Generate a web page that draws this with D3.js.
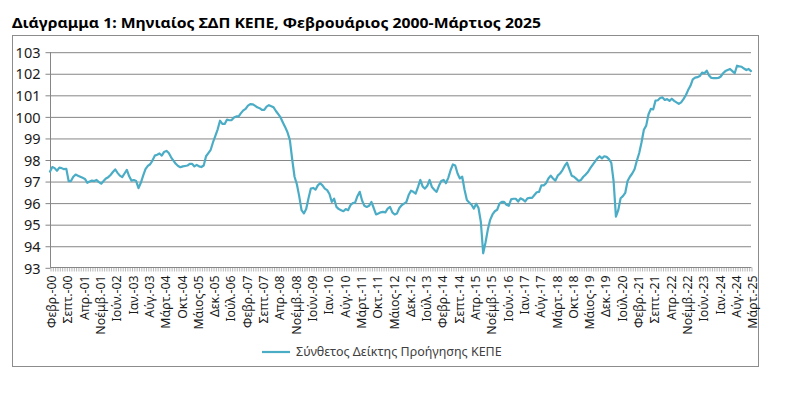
<!DOCTYPE html>
<html><head><meta charset="utf-8">
<script src="https://cdn.jsdelivr.net/npm/d3@7"></script>
<style>body{margin:0;background:#fff}svg{display:block}</style>
</head><body>
<svg id="c" width="791" height="393"></svg>
<script>
const title = "Διάγραμμα 1: Μηνιαίος ΣΔΠ ΚΕΠΕ, Φεβρουάριος 2000-Μάρτιος 2025";
const seriesName = "Σύνθετος Δείκτης Προήγησης ΚΕΠΕ";
const monthNames = ["Ιαν.","Φεβρ.","Μάρτ.","Απρ.","Μάιος","Ιούν.","Ιούλ.","Αύγ.","Σεπτ.","Οκτ.","Νοέμβ.","Δεκ."];
const startYear = 2000, startMonthIndex = 1; // February 2000
const values = [
97.44,97.65,97.60,97.48,97.62,97.60,97.55,97.57,97.00,97.00,97.20,97.30,
97.25,97.20,97.15,97.10,96.92,96.98,97.02,97.00,97.05,96.95,96.88,97.00,
97.12,97.18,97.28,97.42,97.54,97.38,97.25,97.18,97.35,97.52,97.22,97.02,
97.05,97.00,96.67,96.92,97.25,97.55,97.70,97.78,97.95,98.18,98.22,98.28,
98.18,98.35,98.40,98.30,98.10,97.95,97.80,97.70,97.64,97.68,97.70,97.72,
97.80,97.80,97.68,97.75,97.68,97.65,97.72,98.15,98.30,98.45,98.80,99.10,
99.40,99.80,99.65,99.65,99.85,99.82,99.83,99.95,100.00,100.00,100.15,100.28,
100.35,100.50,100.57,100.56,100.50,100.42,100.38,100.30,100.30,100.45,100.52,100.47,
100.42,100.25,100.10,99.95,99.72,99.50,99.25,98.90,98.00,97.20,96.85,96.30,
95.65,95.50,95.70,96.20,96.65,96.68,96.60,96.80,96.90,96.80,96.65,96.58,
96.40,96.03,96.18,95.80,95.70,95.65,95.60,95.70,95.65,95.88,95.98,96.00,
96.30,96.50,96.10,95.85,95.80,95.85,96.03,95.75,95.45,95.50,95.55,95.57,
95.55,95.72,95.80,95.55,95.45,95.50,95.75,95.88,95.95,96.02,96.35,96.55,
96.50,96.42,96.72,97.05,96.75,96.65,96.78,97.05,96.72,96.60,96.50,96.78,
97.00,97.05,96.90,97.15,97.50,97.77,97.72,97.35,97.12,97.20,96.60,96.12,
96.00,95.90,95.72,95.95,95.75,95.10,93.65,94.15,94.75,95.20,95.45,95.60,
95.67,95.95,96.03,96.03,95.90,95.85,96.15,96.18,96.18,96.05,96.20,96.15,
96.05,96.20,96.22,96.22,96.35,96.48,96.50,96.80,96.80,96.90,97.12,97.25,
97.12,97.02,97.25,97.35,97.50,97.70,97.85,97.55,97.25,97.20,97.10,97.00,
97.05,97.20,97.30,97.42,97.60,97.75,97.90,98.05,98.15,98.05,98.15,98.12,
98.02,97.85,97.00,95.35,95.65,96.20,96.30,96.45,97.00,97.20,97.35,97.55,
97.95,98.30,98.80,99.38,99.57,100.10,100.35,100.32,100.73,100.75,100.85,100.88,
100.76,100.80,100.72,100.82,100.72,100.65,100.58,100.65,100.80,100.98,101.22,101.42,
101.72,101.80,101.82,101.87,102.03,102.00,102.12,101.90,101.78,101.77,101.77,101.78,
101.85,102.00,102.10,102.15,102.20,102.10,102.00,102.35,102.32,102.30,102.22,102.15,
102.20,102.10
];
const tickLabels = ["Φεβρ.-00","Σεπτ.-00","Απρ.-01","Νοέμβ.-01","Ιούν.-02","Ιαν.-03","Αύγ.-03","Μάρτ.-04","Οκτ.-04","Μάιος-05","Δεκ.-05","Ιούλ.-06","Φεβρ.-07","Σεπτ.-07","Απρ.-08","Νοέμβ.-08","Ιούν.-09","Ιαν.-10","Αύγ.-10","Μάρτ.-11","Οκτ.-11","Μάιος-12","Δεκ.-12","Ιούλ.-13","Φεβρ.-14","Σεπτ.-14","Απρ.-15","Νοέμβ.-15","Ιούν.-16","Ιαν.-17","Αύγ.-17","Μάρτ.-18","Οκτ.-18","Μάιος-19","Δεκ.-19","Ιούλ.-20","Φεβρ.-21","Σεπτ.-21","Απρ.-22","Νοέμβ.-22","Ιούν.-23","Ιαν.-24","Αύγ.-24","Μάρτ.-25"];
const yTicks = [93,94,95,96,97,98,99,100,101,102,103];

const categories = values.map((v, i) => {
  const k = startMonthIndex + i;
  return monthNames[k % 12] + "-" + String((startYear + Math.floor(k / 12)) % 100).padStart(2, "0");
});
const data = categories.map((c, i) => ({c, v: values[i]}));

const svg = d3.select("#c");
const L = 50, R = 751, T = 51.7, B = 267.3;
const x = d3.scalePoint().domain(categories).range([L, R]);
const y = d3.scaleLinear().domain([93, 103]).range([B, T]);
const FONT = "'Noto Sans', 'Open Sans', sans-serif";
const axisCol = "#868686";

// outer frame
svg.append("rect").attr("x", 12.5).attr("y", 35.5).attr("width", 746).attr("height", 331)
  .attr("fill", "none").attr("stroke", "#8c8c8c").attr("stroke-width", 1);

// title
svg.append("text").attr("x", 12).attr("y", 27.5)
  .attr("font-family", FONT).attr("font-weight", "bold")
  .attr("font-size", 14.5).attr("fill", "#000")
  .attr("textLength", 529).attr("lengthAdjust", "spacingAndGlyphs")
  .text(title);

// gridlines
const grid = svg.append("g").attr("transform", `translate(${L},0.5)`)
  .call(d3.axisLeft(y).tickValues(yTicks.filter(d => d > 93)).tickSize(-(R - L)).tickFormat(""));
grid.select(".domain").remove();
grid.selectAll("line").attr("stroke", axisCol).attr("stroke-width", 1);

// y axis
const ya = svg.append("g").attr("transform", `translate(${L + 0.5},0.5)`)
  .call(d3.axisLeft(y).tickValues(yTicks).tickSize(5).tickPadding(5).tickFormat(d3.format("d")));
ya.select(".domain").attr("stroke", axisCol).attr("d", `M0,${T}V${B}`);
ya.selectAll("line").attr("stroke", axisCol);
ya.selectAll("text").attr("font-family", FONT).attr("font-size", 14.5).attr("fill", "#1a1a1a").attr("dy", "0.36em");

// x axis
const labelSet = new Set(tickLabels);
const xa = svg.append("g").attr("transform", `translate(0.5,${B + 0.2})`)
  .call(d3.axisBottom(x).tickValues(categories).tickSize(4)
    .tickFormat(d => labelSet.has(d) && categories.indexOf(d) % 7 === 0 ? d : ""));
xa.select(".domain").attr("stroke", axisCol).attr("d", `M${L},0H${R}`);
xa.selectAll("line").attr("stroke", axisCol).attr("stroke-width", 0.6);
xa.selectAll("text")
  .attr("font-family", FONT).attr("font-size", 12.3).attr("fill", "#1a1a1a")
  .attr("text-anchor", "end")
  .attr("transform", "rotate(-90)")
  .attr("x", -8).attr("y", 0).attr("dy", "0.42em").attr("dx", 0);

// line
svg.append("path").datum(data)
  .attr("fill", "none").attr("stroke", "#4BACC6").attr("stroke-width", 2.2)
  .attr("stroke-linejoin", "round").attr("stroke-linecap", "round")
  .attr("d", d3.line().x(d => x(d.c)).y(d => y(d.v)));

// legend
const lg = svg.append("g").attr("transform", "translate(262,352)");
lg.append("line").attr("x1", 0).attr("x2", 28).attr("y1", 0).attr("y2", 0)
  .attr("stroke", "#4BACC6").attr("stroke-width", 2.2);
lg.append("text").attr("x", 34).attr("y", 0).attr("dy", "0.35em")
  .attr("font-family", FONT).attr("font-size", 12.5).attr("fill", "#404040").text(seriesName);
</script>
</body></html>
